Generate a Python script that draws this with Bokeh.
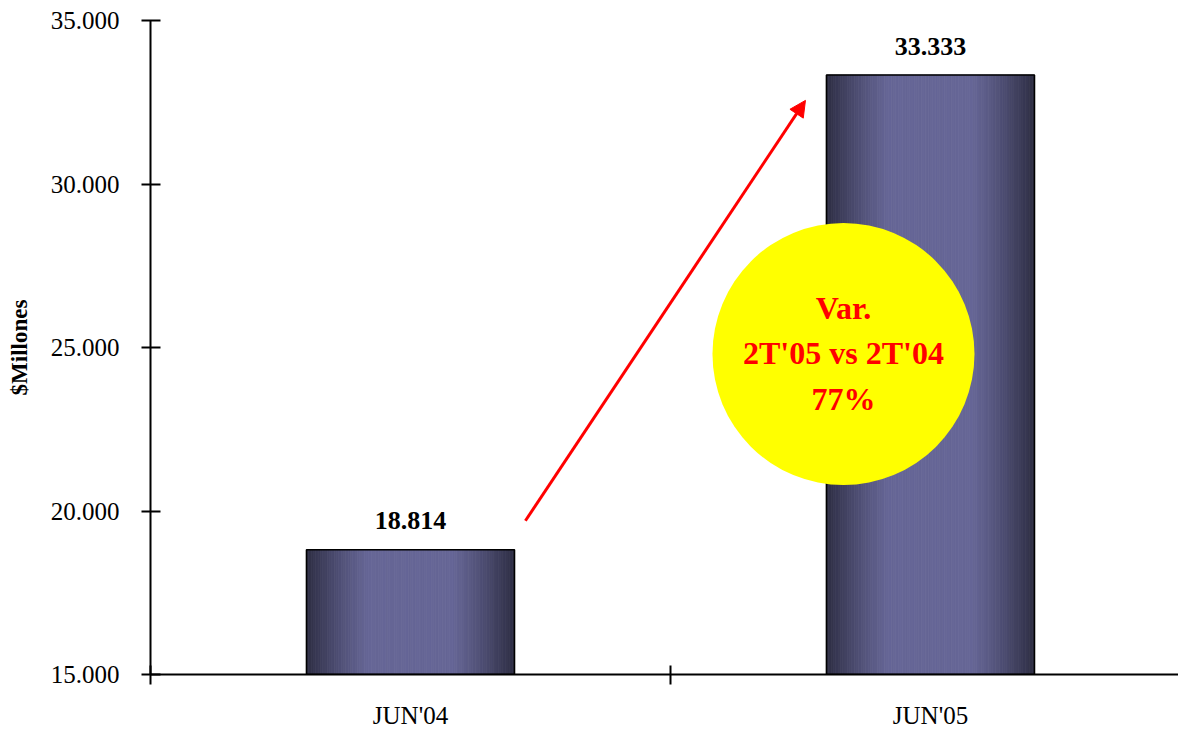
import numpy as np
from bokeh.plotting import figure
from bokeh.models import FixedTicker, Arrow, NormalHead
from bokeh.core.properties import value
from bokeh.embed import file_html
from bokeh.resources import INLINE

# ---- data ----
categories = ["JUN'04", "JUN'05"]
values = [18814, 33333]
y_ticks = [15000, 20000, 25000, 30000, 35000]
y_tick_labels = ["15.000", "20.000", "25.000", "30.000", "35.000"]
y_label = "$Millones"
note_lines = ["Var.", "2T'05 vs 2T'04", "77%"]

FONT = "Liberation Serif"
Y0 = 15000
centers = np.arange(len(categories)) + 0.5
bar_w = 0.4

p = figure(width=1178, height=731, x_range=(0, 1.977), y_range=(Y0, 35000),
           output_backend="svg", toolbar_location=None,
           min_border_left=150, min_border_right=0, min_border_top=20, min_border_bottom=56)
p.outline_line_color = None
p.xgrid.visible = False
p.ygrid.visible = False
p.background_fill_color = "white"
p.border_fill_color = "white"

# ---- gradient bars (vertical strips) ----
N = 90
dark = np.array([46, 46, 68])
light = np.array([102, 102, 150])
t = (np.arange(N) + 0.5) / N
f = np.clip(np.sin(np.pi * t) * 1.25, 0, 1)
strip_cols = ["#%02x%02x%02x" % tuple((dark + (light - dark) * fi).astype(int)) for fi in f]
for c, v in zip(centers, values):
    lefts = c - bar_w / 2 + bar_w * np.arange(N) / N
    rights = lefts + bar_w / N
    p.quad(left=lefts, right=rights, bottom=Y0, top=v,
           fill_color=strip_cols, line_color=strip_cols, line_width=0.8)
p.vbar(x=centers, width=bar_w, bottom=Y0, top=values,
       fill_color=None, line_color="black", line_width=1.6)

# value labels
val_labels = [f"{v:,}".replace(",", ".") for v in values]
p.text(x=centers, y=values, text=val_labels, y_offset=-29,
       text_align="center", text_baseline="middle",
       text_font=value(FONT), text_font_style="bold", text_font_size="26px",
       text_color="black")

# ---- arrow ----
p.add_layout(Arrow(end=NormalHead(size=16, fill_color="red", line_color="red"),
                   x_start=0.721, y_start=19702, x_end=1.2596, y_end=32557,
                   line_color="red", line_width=3))

# ---- yellow circle annotation ----
cx, cy = 1.3327, 24801
p.scatter(x=[cx], y=[cy], size=262, fill_color="#FFFF00", line_color=None)
p.text(x=[cx] * 3, y=[cy] * 3, text=note_lines, y_offset=[-46, -1, 45],
       text_align="center", text_baseline="middle",
       text_font=value(FONT), text_font_style="bold", text_font_size="32px",
       text_color="#FF0000")

# ---- axes ----
xa = p.xaxis[0]
xa.ticker = FixedTicker(ticks=list(centers), minor_ticks=[0, 1, 2])
xa.major_label_overrides = {float(c): lab for c, lab in zip(centers, categories)}
xa.major_tick_line_color = None
xa.major_tick_in = 0
xa.major_tick_out = 0
xa.minor_tick_line_color = "black"
xa.minor_tick_line_width = 2
xa.minor_tick_in = 9
xa.minor_tick_out = 10
xa.axis_line_width = 2
xa.axis_line_color = "black"
xa.major_label_standoff = 17
xa.major_label_text_font = FONT
xa.major_label_text_font_size = "25px"
xa.major_label_text_color = "black"

ya = p.yaxis[0]
ya.ticker = FixedTicker(ticks=y_ticks)
ya.major_label_overrides = {t_: lab for t_, lab in zip(y_ticks, y_tick_labels)}
ya.major_tick_in = 10
ya.major_tick_out = 9
ya.major_tick_line_width = 2
ya.minor_tick_line_color = None
ya.axis_line_width = 2
ya.axis_line_color = "black"
ya.major_label_standoff = 22
ya.major_label_text_font = FONT
ya.major_label_text_font_size = "25px"
ya.major_label_text_color = "black"
ya.axis_label = y_label
ya.axis_label_text_font = FONT
ya.axis_label_text_font_style = "bold"
ya.axis_label_text_font_size = "23px"
ya.axis_label_text_color = "black"
ya.axis_label_standoff = 16

open("out.html", "w").write(file_html(p, INLINE))
